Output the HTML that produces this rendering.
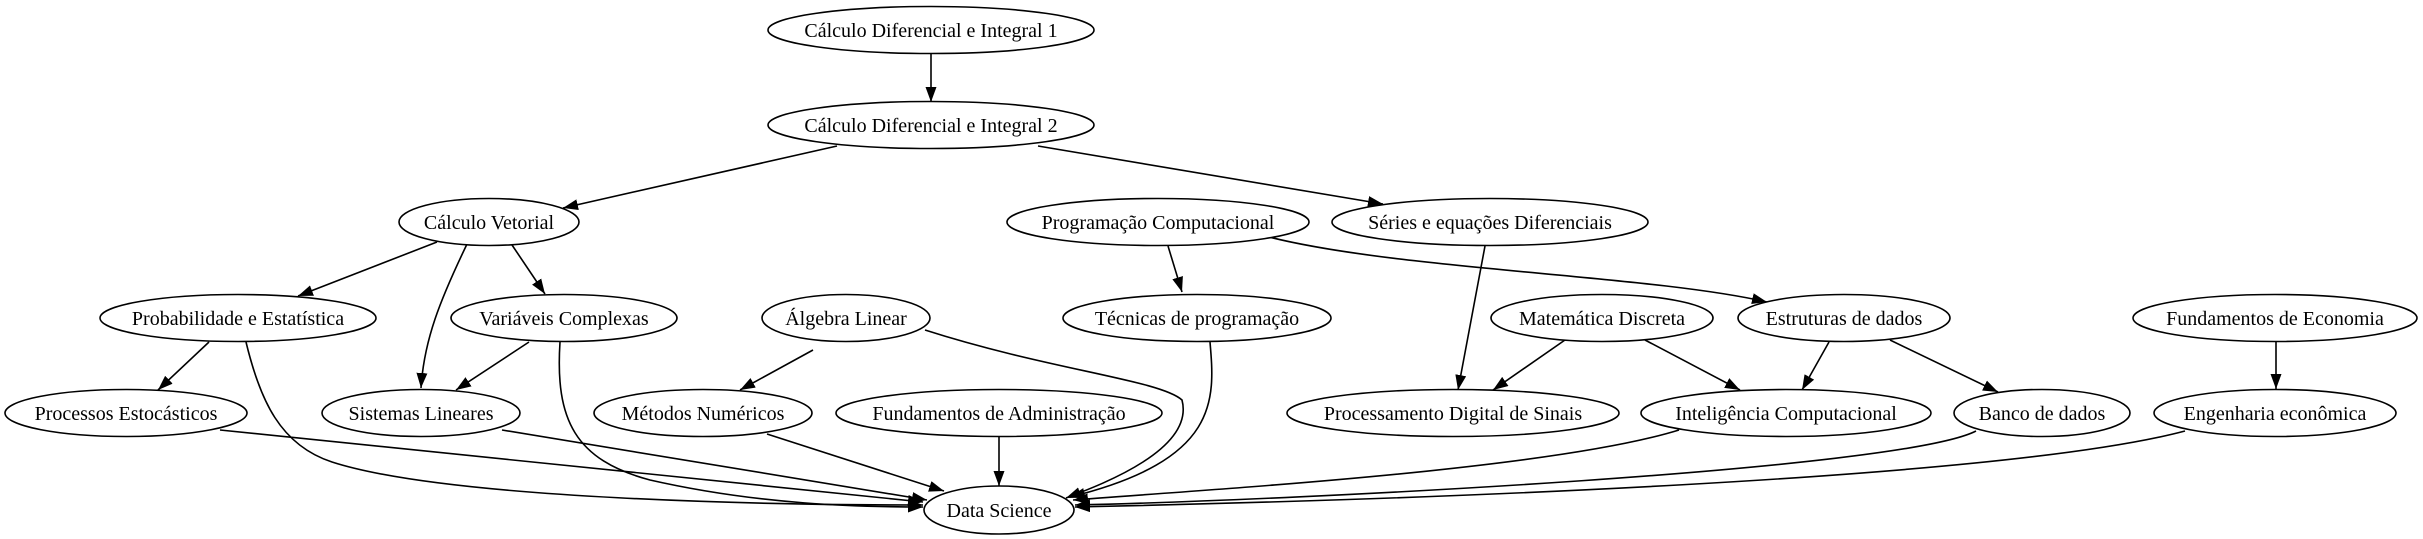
<!DOCTYPE html>
<html><head><meta charset="utf-8"><style>html,body{margin:0;padding:0;background:#fff}svg{display:block}</style></head>
<body>
<svg width="2423" height="539" viewBox="0 0 2423 539" xmlns="http://www.w3.org/2000/svg">
<defs><marker id="a" markerUnits="userSpaceOnUse" markerWidth="16" markerHeight="12" refX="15" refY="5.5" orient="auto"><path d="M0,0 L15,5.5 L0,11 z" fill="#000"/></marker></defs>
<g fill="none" stroke="#000" stroke-width="1.6" marker-end="url(#a)">
<path d="M931,53 L931,102"/>
<path d="M837,146 L563,208"/>
<path d="M1038,146 L1383,204"/>
<path d="M437,242 L298,296"/>
<path d="M468,242 C440,300 424,340 421,388"/>
<path d="M510,242 L545,294"/>
<path d="M209,342 L158,390"/>
<path d="M246,342 C260,400 280,445 332,462 C450,500 780,505 923,505"/>
<path d="M529,342 L456,390"/>
<path d="M560,342 C555,420 575,460 650,480 C760,505 860,507 923,507"/>
<path d="M813,350 L740,390"/>
<path d="M925,330 C1050,370 1160,380 1182,400 C1195,450 1100,485 1066,498"/>
<path d="M220,430 L923,502"/>
<path d="M502,430 L927,500"/>
<path d="M767,434 L944,491"/>
<path d="M999,437 L999,486"/>
<path d="M1168,246 L1182,292"/>
<path d="M1269,237 C1400,270 1650,275 1767,302"/>
<path d="M1210,342 C1215,400 1220,460 1070,497"/>
<path d="M1485,246 L1458,390"/>
<path d="M1565,340 L1493,390"/>
<path d="M1645,340 L1740,390"/>
<path d="M1829,342 L1802,390"/>
<path d="M1890,340 L1998,392"/>
<path d="M2276,342 L2276,389"/>
<path d="M1679,430 C1550,470 1200,490 1073,500"/>
<path d="M1976,431 C1900,470 1300,500 1075,505"/>
<path d="M2185,431 C2000,480 1400,500 1075,507"/>
</g>
<g fill="#fff" stroke="#000" stroke-width="1.6">
<ellipse cx="931" cy="30" rx="163" ry="23.5"/>
<ellipse cx="931" cy="125" rx="163" ry="23.5"/>
<ellipse cx="489" cy="222" rx="90" ry="23.5"/>
<ellipse cx="1158" cy="222" rx="151" ry="23.5"/>
<ellipse cx="1490" cy="222" rx="158" ry="23.5"/>
<ellipse cx="238" cy="318" rx="138" ry="23.5"/>
<ellipse cx="564" cy="318" rx="113" ry="23.5"/>
<ellipse cx="846" cy="318" rx="84" ry="23.5"/>
<ellipse cx="1197" cy="318" rx="134" ry="23.5"/>
<ellipse cx="1602" cy="318" rx="111" ry="23.5"/>
<ellipse cx="1844" cy="318" rx="106" ry="23.5"/>
<ellipse cx="2275" cy="318" rx="142" ry="23.5"/>
<ellipse cx="126" cy="413" rx="121" ry="23.5"/>
<ellipse cx="421" cy="413" rx="99" ry="23.5"/>
<ellipse cx="703" cy="413" rx="109" ry="23.5"/>
<ellipse cx="999" cy="413" rx="163" ry="23.5"/>
<ellipse cx="1453" cy="413" rx="166" ry="23.5"/>
<ellipse cx="1786" cy="413" rx="145" ry="23.5"/>
<ellipse cx="2042" cy="413" rx="88" ry="23.5"/>
<ellipse cx="2275" cy="413" rx="121" ry="23.5"/>
<ellipse cx="999" cy="510" rx="75" ry="24"/>
</g>
<g font-family="'Liberation Serif', serif" font-size="20" text-anchor="middle" fill="#000">
<text x="931" y="37">Cálculo Diferencial e Integral 1</text>
<text x="931" y="132">Cálculo Diferencial e Integral 2</text>
<text x="489" y="229">Cálculo Vetorial</text>
<text x="1158" y="229">Programação Computacional</text>
<text x="1490" y="229">Séries e equações Diferenciais</text>
<text x="238" y="325">Probabilidade e Estatística</text>
<text x="564" y="325">Variáveis Complexas</text>
<text x="846" y="325">Álgebra Linear</text>
<text x="1197" y="325">Técnicas de programação</text>
<text x="1602" y="325">Matemática Discreta</text>
<text x="1844" y="325">Estruturas de dados</text>
<text x="2275" y="325">Fundamentos de Economia</text>
<text x="126" y="420">Processos Estocásticos</text>
<text x="421" y="420">Sistemas Lineares</text>
<text x="703" y="420">Métodos Numéricos</text>
<text x="999" y="420">Fundamentos de Administração</text>
<text x="1453" y="420">Processamento Digital de Sinais</text>
<text x="1786" y="420">Inteligência Computacional</text>
<text x="2042" y="420">Banco de dados</text>
<text x="2275" y="420">Engenharia econômica</text>
<text x="999" y="517">Data Science</text>
</g>
</svg>
</body></html>
